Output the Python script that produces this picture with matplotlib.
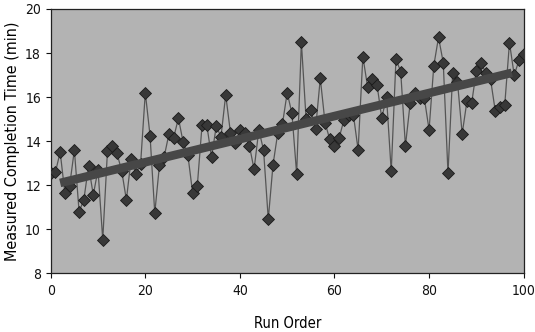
import numpy as np
import matplotlib
matplotlib.use("Agg")
import matplotlib.pyplot as plt

plt.rcParams['font.family'] = ['DejaVu Sans']
plt.rcParams['font.stretch'] = 'condensed'

# run order and measured completion times (min)
run_order = list(range(0, 101))
completion = [
    12.57, 12.6, 13.5, 11.63, 11.98, 13.6, 10.8, 11.33, 12.87, 11.56,
    12.7, 9.52, 13.56, 13.8, 13.45, 12.66, 11.33, 13.19, 12.5, 12.95,
    16.2, 14.25, 10.73, 12.92, 13.3, 14.33, 14.16, 15.04, 13.95, 13.37,
    11.66, 11.98, 14.74, 14.74, 13.27, 14.67, 14.2, 16.1, 14.39, 13.93,
    14.5, 14.36, 13.8, 12.72, 14.5, 13.6, 10.45, 12.92, 14.36, 14.78,
    16.2, 15.26, 12.51, 18.49, 14.99, 15.39, 14.55, 16.85, 14.84, 14.08,
    13.78, 14.16, 14.96, 15.19, 15.19, 13.6, 17.84, 16.47, 16.8, 16.55,
    15.04, 16.02, 12.62, 17.72, 17.16, 13.78, 15.72, 16.17, 15.95, 15.95,
    14.51, 17.43, 18.71, 17.56, 12.54, 17.11, 16.7, 14.33, 15.8, 15.72,
    17.2, 17.53, 17.11, 16.8, 15.37, 15.54, 15.64, 18.47, 17.0, 17.66,
    17.96,
]

# trend line end points
trend_x = [2, 97.5]
trend_y = [12.1, 17.1]

fig = plt.figure(figsize=(5.35, 3.32), dpi=100)
ax = fig.add_axes([0.0948, 0.177, 0.884, 0.796])
ax.set_facecolor('#b3b3b3')

ax.plot(run_order, completion, color='#555555', lw=0.9, zorder=2)
ax.plot(run_order, completion, ls='none', marker='D', ms=5.8,
        mfc='#383838', mec='#1a1a1a', mew=0.6, zorder=3)
ax.plot(trend_x, trend_y, color='#474747', lw=6.2, solid_capstyle='butt', zorder=4)

ax.set_xlim(0, 100)
ax.set_ylim(8, 20)
ax.set_xticks([0, 20, 40, 60, 80, 100])
ax.set_yticks([8, 10, 12, 14, 16, 18, 20])
ax.tick_params(direction='out', length=3.5, width=0.8, labelsize=10, colors='#111111')
ax.tick_params(axis='x', pad=4.5)

for s in ax.spines.values():
    s.set_color('#222222')
    s.set_linewidth(0.9)

ax.set_xlabel('Run Order', fontsize=10.5, labelpad=13)
ax.set_ylabel('Measured Completion Time (min)', fontsize=11.5, labelpad=4)

fig.savefig('out.png', dpi=100)
